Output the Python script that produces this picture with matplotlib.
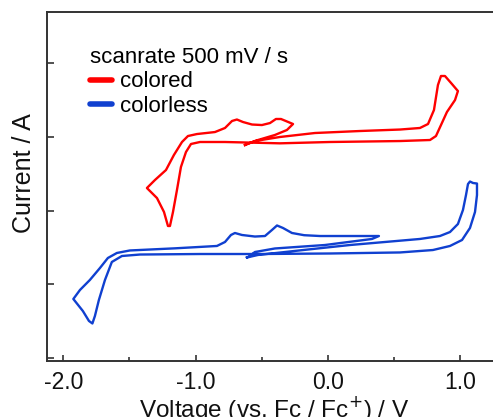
import matplotlib
matplotlib.use("Agg")
import matplotlib.pyplot as plt

plt.rcParams["font.family"] = ["Liberation Sans", "DejaVu Sans"]
plt.rcParams["axes.unicode_minus"] = False

# cyclic voltammograms, current in arbitrary units (one tick = 1 unit)
colored_v = [-0.627, -0.552, -0.363, -0.098, 0.242, 0.544, 0.695, 0.756, 0.801, 0.831,
             0.854, 0.884, 0.937, 0.982, 0.960, 0.899, 0.854, 0.816, 0.771, 0.544,
             0.015, -0.363, -0.778, -0.967, -1.035, -1.073, -1.111, -1.141, -1.171, -1.194,
             -1.209, -1.239, -1.292, -1.368, -1.307, -1.224, -1.164, -1.103, -1.058, -0.990,
             -0.854, -0.778, -0.725, -0.688, -0.642, -0.574, -0.499, -0.438, -0.393, -0.355,
             -0.264, -0.310, -0.401, -0.529, -0.612, -0.627]
colored_i = [2.888, 2.942, 2.997, 3.051, 3.078, 3.098, 3.119, 3.173, 3.363, 3.702,
             3.824, 3.824, 3.715, 3.620, 3.498, 3.336, 3.159, 3.010, 2.956, 2.942,
             2.929, 2.911, 2.929, 2.929, 2.902, 2.793, 2.590, 2.278, 1.980, 1.790,
             1.790, 1.980, 2.169, 2.305, 2.414, 2.549, 2.753, 2.929, 3.010, 3.037,
             3.064, 3.119, 3.214, 3.234, 3.200, 3.166, 3.159, 3.186, 3.241, 3.241,
             3.173, 3.092, 3.024, 2.956, 2.902, 2.888]

colorless_v = [-0.612, -0.529, -0.325, -0.151, 0.166, 0.431, 0.695, 0.846, 0.922, 0.982,
               1.020, 1.043, 1.058, 1.073, 1.096, 1.126, 1.126, 1.111, 1.073, 1.013,
               0.922, 0.793, 0.544, 0.015, -0.514, -0.967, -1.421, -1.557, -1.633, -1.685,
               -1.731, -1.761, -1.780, -1.806, -1.852, -1.924, -1.874, -1.799, -1.723, -1.663,
               -1.595, -1.497, -1.156, -0.839, -0.778, -0.733, -0.703, -0.650, -0.552, -0.476,
               -0.423, -0.385, -0.340, -0.272, -0.180, -0.060, 0.385, 0.333, -0.023, -0.401,
               -0.552, -0.597, -0.612]
colorless_i = [1.363, 1.397, 1.437, 1.471, 1.532, 1.573, 1.614, 1.654, 1.708, 1.817,
               2.007, 2.210, 2.359, 2.393, 2.373, 2.366, 2.210, 1.980, 1.763, 1.600,
               1.519, 1.464, 1.431, 1.417, 1.410, 1.410, 1.403, 1.383, 1.302, 1.058,
               0.786, 0.569, 0.468, 0.502, 0.637, 0.800, 0.922, 1.058, 1.220, 1.356,
               1.424, 1.458, 1.487, 1.519, 1.573, 1.668, 1.695, 1.668, 1.647, 1.654,
               1.736, 1.797, 1.763, 1.695, 1.665, 1.654, 1.654, 1.614, 1.532, 1.485,
               1.437, 1.376, 1.363]

x_major = [-2.0, -1.0, 0.0, 1.0]
x_minor = [-1.5, -0.5, 0.5]
x_labels = ["-2.0", "-1.0", "0.0", "1.0"]
y_ticks = [0, 1, 2, 3, 4]

fig = plt.figure(figsize=(4.93, 4.17), dpi=100)
ax = fig.add_axes([47 / 493, 56 / 417, 455 / 493, 349 / 417])

red = "#ff0000"
blue = "#1040d0"
ax.plot(colored_v, colored_i, color=red, lw=1.7, solid_joinstyle="round", label="colored")
ax.plot(colorless_v, colorless_i, color=blue, lw=1.7, solid_joinstyle="round", label="colorless")

ax.set_xlim(-2.123, 1.315)
ax.set_ylim(-0.041, 4.692)

ax.set_xticks(x_major)
ax.set_xticklabels(x_labels)
ax.set_xticks(x_minor, minor=True)
ax.set_yticks(y_ticks)
ax.set_yticklabels([])
ax.tick_params(direction="in", length=4, width=1.2, color="#333333",
               labelsize=16.5, pad=7, labelcolor="#111111")
ax.tick_params(which="minor", direction="in", length=3, width=1.2, color="#333333")
ax.tick_params(axis="y", length=5)

for side in ["left", "bottom", "top"]:
    ax.spines[side].set_linewidth(1.4)
    ax.spines[side].set_color("#333333")
ax.spines["right"].set_visible(False)

ax.set_xlabel("Voltage (vs. Fc / Fc$^{+}$) / V", fontsize=17.5, color="#111111", labelpad=0)
ax.set_ylabel("Current / A", fontsize=18, color="#111111")
ax.yaxis.set_label_coords(-0.024, 0.539)

leg = ax.legend(title="scanrate 500 mV / s", loc="upper left",
                bbox_to_anchor=(90 / 493, 1 - 47 / 417), bbox_transform=fig.transFigure,
                frameon=False, fontsize=16, title_fontsize=16, alignment="left",
                handlelength=1.0, handletextpad=0.35, labelspacing=0.15, borderpad=0,
                borderaxespad=0)
for h in leg.legend_handles:
    h.set_linewidth(4)
    h.set_solid_capstyle("round")

fig.savefig("out.png", dpi=100)
